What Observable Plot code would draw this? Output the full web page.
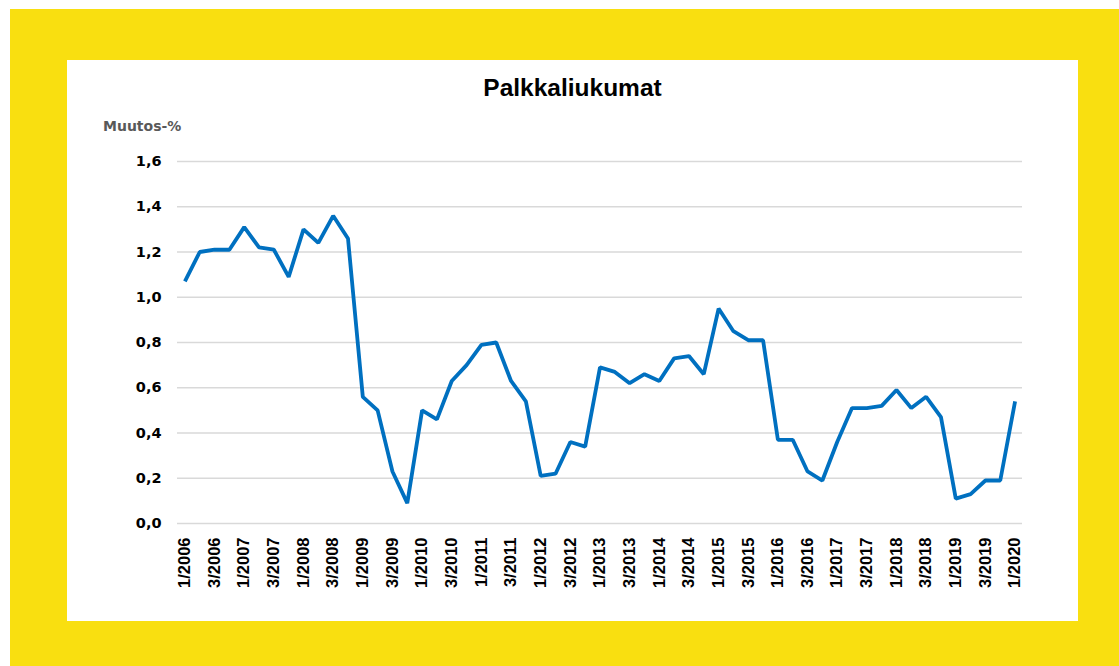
<!DOCTYPE html>
<html>
<head>
<meta charset="utf-8">
<script src="https://cdn.jsdelivr.net/npm/d3@7"></script>
<script src="https://cdn.jsdelivr.net/npm/@observablehq/plot@0.6"></script>
<style>
  html, body { margin: 0; padding: 0; background: #ffffff; }
  #frame { position: absolute; left: 10px; top: 9px; width: 1109px; height: 657px; background: #F9DF10; }
  #panel { position: absolute; left: 67px; top: 60px; width: 1011px; height: 561px; background: #ffffff; }
  #title { position: absolute; left: 0; width: 1011px; top: 14px; text-align: center;
           font-family: "Liberation Sans", Arial, sans-serif; font-weight: bold; font-size: 24.5px; color: #000; }
  #ylabel { position: absolute; left: 36px; top: 58px;
            font-family: "DejaVu Sans", sans-serif; font-weight: bold; font-size: 14px; color: #595959; }
  #chart { position: absolute; left: 0; top: 0; }
</style>
</head>
<body>
<div id="frame"></div>
<div id="panel">
  <div id="chart"></div>
  <div id="title">Palkkaliukumat</div>
  <div id="ylabel">Muutos-%</div>
</div>
<script>
const years = d3.range(2006, 2021);
const quarters = [1, 2, 3, 4];
const labels = [];
for (const y of years) for (const q of quarters) { if (y === 2020 && q > 1) break; labels.push(q + "/" + y); }

const values = [
  1.07, 1.20, 1.21, 1.21, 1.31, 1.22, 1.21, 1.09,
  1.30, 1.24, 1.36, 1.26, 0.56, 0.50, 0.23, 0.09,
  0.50, 0.46, 0.63, 0.70, 0.79, 0.80, 0.63, 0.54,
  0.21, 0.22, 0.36, 0.34, 0.69, 0.67, 0.62, 0.66,
  0.63, 0.73, 0.74, 0.66, 0.95, 0.85, 0.81, 0.81,
  0.37, 0.37, 0.23, 0.19, 0.36, 0.51, 0.51, 0.52,
  0.59, 0.51, 0.56, 0.47, 0.11, 0.13, 0.19, 0.19,
  0.54
];

const yTicks = [0, 0.2, 0.4, 0.6, 0.8, 1.0, 1.2, 1.4, 1.6];
const xTicks = labels.filter(l => l.startsWith("1/") || l.startsWith("3/"));

const data = labels.map((l, i) => ({label: l, value: values[i]}));
const fmt = v => v.toFixed(1).replace(".", ",");

const chart = Plot.plot({
  width: 1011,
  height: 561,
  marginLeft: 110,
  marginRight: 56,
  marginTop: 101,
  marginBottom: 98,
  style: { fontFamily: "'Liberation Sans', Arial, sans-serif", background: "transparent" },
  x: { type: "point", domain: labels, padding: 0.5, label: null },
  y: { domain: [0, 1.6], label: null },
  marks: [
    Plot.gridY(yTicks, { stroke: "#d9d9d9", strokeOpacity: 1, strokeWidth: 1.3 }),
    Plot.axisY(yTicks, { tickSize: 0, tickPadding: 16, tickFormat: fmt, fontSize: 14.5, fontWeight: "bold", fontFamily: "'DejaVu Sans', sans-serif", fill: "#000", label: null }),
    Plot.axisX(xTicks, { tickSize: 0, tickRotate: -90, tickPadding: 14, fontSize: 16.5, fontWeight: "bold", fill: "#000", label: null }),
    Plot.line(data, { x: "label", y: "value", stroke: "#0070C0", strokeWidth: 3.8, strokeLinejoin: "miter", strokeLinecap: "butt" })
  ]
});
document.getElementById("chart").appendChild(chart);
</script>
</body>
</html>
